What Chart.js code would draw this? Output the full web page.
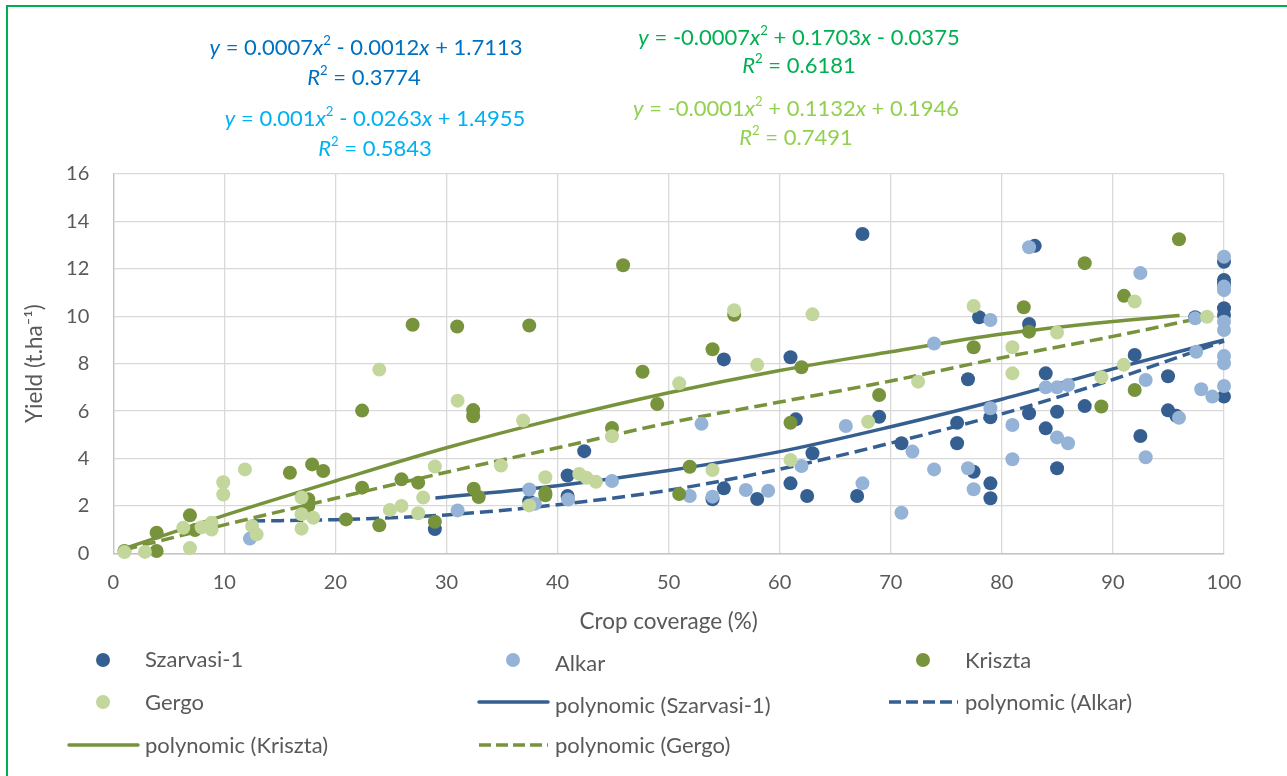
<!DOCTYPE html>
<html lang="en">
<head>
    <meta charset="UTF-8">
    <title>Yield vs crop coverage</title>
    <script src="https://cdn.jsdelivr.net/npm/chart.js"></script>
    <style>
        body { margin: 0; background: #fff; }
        #wrap { position: relative; width: 1287px; height: 776px; overflow: hidden; font-family: Lato, sans-serif; }
        #frame { position: absolute; left: 6px; top: 5px; right: -10px; bottom: -10px; border-top: 2.6px solid #00b050; border-left: 2.6px solid #00b050; pointer-events: none; }
        .eq { position: absolute; transform: translate(-50%, -50%); white-space: nowrap; font-size: 22px; }
        .eq sup { font-size: 0.6em; position: relative; top: -0.1em; vertical-align: top; }
    </style>
</head>
<body>
<div id="wrap">
    <canvas id="chart" width="1287" height="776"></canvas>
    <div id="frame"></div>
    <div class="eq" style="color:#0070c0; left:366px; top:46px"><i>y</i> = 0.0007<i>x</i><sup>2</sup> - 0.0012<i>x</i> + 1.7113</div>
    <div class="eq" style="color:#0070c0; left:364px; top:76px"><i>R</i><sup>2</sup> = 0.3774</div>
    <div class="eq" style="color:#00b0f0; left:375px; top:117px"><i>y</i> = 0.001<i>x</i><sup>2</sup> - 0.0263<i>x</i> + 1.4955</div>
    <div class="eq" style="color:#00b0f0; left:375px; top:147px"><i>R</i><sup>2</sup> = 0.5843</div>
    <div class="eq" style="color:#00b050; left:799px; top:36px"><i>y</i> = -0.0007<i>x</i><sup>2</sup> + 0.1703<i>x</i> - 0.0375</div>
    <div class="eq" style="color:#00b050; left:799px; top:64px"><i>R</i><sup>2</sup> = 0.6181</div>
    <div class="eq" style="color:#92d050; left:796px; top:107px"><i>y</i> = -0.0001<i>x</i><sup>2</sup> + 0.1132<i>x</i> + 0.1946</div>
    <div class="eq" style="color:#92d050; left:796px; top:136px"><i>R</i><sup>2</sup> = 0.7491</div>
</div>

<script>
// measured points [crop coverage %, yield t/ha]
const szarvasi = [[28.95,1.02],[37.45,2.2],[40.9,3.28],[40.9,2.42],[42.4,4.31],[53.95,2.28],[54.97,2.74],[54.97,8.18],
    [57.97,2.29],[60.97,8.27],[60.97,2.95],[61.45,5.65],[62.47,2.42],[62.95,4.22],[66.97,2.42],[67.45,13.47],[68.95,5.76],
    [70.96,4.64],[75.97,5.51],[75.97,4.64],[76.95,7.34],[77.46,3.44],[77.95,9.96],[78.97,5.74],[78.97,2.95],[78.97,2.32],
    [82.45,9.67],[82.45,5.91],[82.96,12.97],[83.95,7.59],[83.95,5.27],[84.97,5.97],[84.97,3.59],[87.46,6.21],[91.96,8.37],
    [92.47,4.95],[94.96,7.47],[94.96,6.03],[95.7,5.8],[97.4,9.96],[100,12.3],[100,11.53],[100,11.35],[100,10.34],[100,10.05],[100,6.61]];
const alkar = [[12.3,0.62],[31,1.81],[37.45,2.69],[37.95,2.09],[40.95,2.27],[44.9,3.05],[51.9,2.42],[52.96,5.46],[53.95,2.39],
    [56.95,2.67],[58.96,2.64],[61.96,3.68],[65.95,5.37],[67.45,2.95],[70.96,1.71],[71.95,4.29],[73.9,8.85],[73.9,3.54],
    [76.95,3.59],[77.46,2.7],[78.97,9.84],[78.97,6.12],[80.95,5.41],[80.95,3.97],[82.45,12.91],[83.95,7.0],[84.97,7.0],
    [85.96,7.1],[84.97,4.89],[85.96,4.64],[92.47,11.82],[92.95,7.31],[92.95,4.05],[95.95,5.72],[97.4,9.91],[97.5,8.5],
    [97.95,6.92],[98.95,6.61],[100,12.51],[100,11.25],[100,11.1],[100,9.77],[100,9.42],[100,8.32],[100,8.01],[100,7.06]];
const kriszta = [[1,0.1],[3.9,0.1],[3.9,0.87],[6.9,1.6],[7.35,0.98],[15.9,3.4],[17.55,2.28],[17.55,2.0],[17.9,3.75],[18.9,3.47],
    [20.95,1.43],[22.4,2.77],[22.4,6.02],[23.95,1.18],[25.95,3.12],[26.95,9.64],[27.45,2.98],[28.95,1.33],[30.96,9.57],
    [32.4,6.04],[32.4,5.78],[32.45,2.72],[32.9,2.37],[37.45,9.61],[38.9,2.55],[38.9,2.45],[44.9,5.29],[45.9,12.15],
    [47.65,7.66],[48.97,6.3],[50.95,2.5],[51.9,3.65],[53.95,8.61],[55.9,10.06],[60.97,5.51],[61.96,7.85],[68.95,6.68],
    [77.46,8.69],[81.97,10.38],[82.45,9.35],[87.46,12.24],[88.96,6.19],[91,10.86],[91.96,6.89],[95.95,13.25]];
const gergo = [[1,0.05],[2.85,0.06],[6.3,1.08],[6.9,0.22],[7.95,1.1],[8.85,1.29],[8.85,1.0],[9.9,3.0],[9.9,2.48],[11.85,3.54],
    [12.5,1.15],[12.9,0.8],[16.95,2.35],[16.95,1.65],[16.95,1.04],[18,1.5],[23.95,7.75],[24.9,1.83],[25.95,2.0],[27.45,1.69],
    [27.9,2.35],[28.95,3.66],[31,6.44],[34.9,3.7],[36.9,5.6],[37.45,2.02],[38.9,3.21],[41.95,3.35],[42.6,3.19],[43.45,3.02],
    [44.9,4.94],[50.95,7.17],[53.95,3.51],[55.9,10.25],[57.97,7.95],[60.97,3.94],[62.95,10.08],[67.96,5.55],[72.46,7.24],
    [77.46,10.43],[80.95,8.69],[80.95,7.59],[84.97,9.31],[88.96,7.43],[90.97,7.95],[91.96,10.62],[98.47,9.98]];

// trend lines
const trendSzarvasiX = [29, 40, 50, 60, 70, 80, 90, 100];
const trendSzarvasiY = [2.33, 2.85, 3.49, 4.29, 5.34, 6.5, 7.78, 9.0];
const trendAlkarX = [12.5, 20, 30, 40, 50, 60, 70, 80, 90, 100];
const trendAlkarY = [1.36, 1.42, 1.62, 2.05, 2.66, 3.55, 4.65, 5.88, 7.33, 8.95];
const trendKrisztaX = [1, 10, 20, 30, 40, 50, 60, 70, 80, 90, 96];
const trendKrisztaY = [0.2, 1.6, 3.05, 4.45, 5.68, 6.77, 7.71, 8.5, 9.25, 9.78, 10.03];
const trendGergoX = [1, 10, 20, 30, 40, 50, 60, 70, 80, 90, 98.5];
const trendGergoY = [0.15, 1.2, 2.32, 3.42, 4.45, 5.5, 6.38, 7.27, 8.25, 9.15, 9.98];

const xTicks = [0, 10, 20, 30, 40, 50, 60, 70, 80, 90, 100];
const yTicks = [0, 2, 4, 6, 8, 10, 12, 14, 16];

const DARK_BLUE = '#365f91', LIGHT_BLUE = '#95b3d7', DARK_GREEN = '#77933c', LIGHT_GREEN = '#c3d69b';
const TEXT = '#595959';
const DASH = [13, 6];

function pts(pairs) { return pairs.map(p => ({x: p[0], y: p[1]})); }
function line(xs, ys) { return xs.map((x, i) => ({x: x, y: ys[i]})); }

function scatterSet(label, pairs, color, order) {
    return { label: label, data: pts(pairs), backgroundColor: color, borderWidth: 0,
             pointRadius: 7, pointHoverRadius: 7, order: order, clip: false };
}
function trendSet(label, xs, ys, color, dash) {
    return { label: label, data: line(xs, ys), showLine: true, borderColor: color, borderWidth: 3.5,
             borderDash: dash, pointRadius: 0, cubicInterpolationMode: 'monotone', order: 10, clip: false };
}

// legend drawn in the Excel grid layout
const legendItems = [
    {text: 'Szarvasi-1', kind: 'dot', color: DARK_BLUE, x: 68, y: 660, ty: 660},
    {text: 'Alkar', kind: 'dot', color: LIGHT_BLUE, x: 478, y: 660, ty: 664},
    {text: 'Kriszta', kind: 'dot', color: DARK_GREEN, x: 888, y: 660, ty: 661},
    {text: 'Gergo', kind: 'dot', color: LIGHT_GREEN, x: 68, y: 702, ty: 703},
    {text: 'polynomic (Szarvasi-1)', kind: 'line', color: DARK_BLUE, dash: [], x: 478, y: 702, ty: 706},
    {text: 'polynomic (Alkar)', kind: 'line', color: DARK_BLUE, dash: [12, 5], x: 888, y: 702, ty: 703},
    {text: 'polynomic (Kriszta)', kind: 'line', color: DARK_GREEN, dash: [], x: 68, y: 745, ty: 746},
    {text: 'polynomic (Gergo)', kind: 'line', color: DARK_GREEN, dash: [12, 5], x: 478, y: 745, ty: 746}
];

const legendPlugin = {
    id: 'gridLegend',
    afterDraw(chart) {
        const ctx = chart.ctx;
        ctx.save();
        legendItems.forEach(it => {
            if (it.kind === 'dot') {
                ctx.fillStyle = it.color;
                ctx.beginPath();
                ctx.arc(it.x + 35, it.y, 7, 0, Math.PI * 2);
                ctx.fill();
            } else {
                ctx.strokeStyle = it.color;
                ctx.lineWidth = 3.5;
                ctx.lineCap = it.dash.length ? 'butt' : 'round';
                ctx.setLineDash(it.dash);
                ctx.beginPath();
                ctx.moveTo(it.x + 1, it.y);
                ctx.lineTo(it.x + 70, it.y);
                ctx.stroke();
                ctx.setLineDash([]);
            }
            ctx.fillStyle = TEXT;
            ctx.font = '22px Lato';
            ctx.textAlign = 'left';
            ctx.textBaseline = 'middle';
            ctx.fillText(it.text, it.x + 77, it.ty);
        });
        ctx.restore();
    }
};

new Chart(document.getElementById('chart'), {
    type: 'scatter',
    data: {
        datasets: [
            trendSet('polynomic (Szarvasi-1)', trendSzarvasiX, trendSzarvasiY, DARK_BLUE, []),
            trendSet('polynomic (Alkar)', trendAlkarX, trendAlkarY, DARK_BLUE, DASH),
            trendSet('polynomic (Kriszta)', trendKrisztaX, trendKrisztaY, DARK_GREEN, []),
            trendSet('polynomic (Gergo)', trendGergoX, trendGergoY, DARK_GREEN, DASH),
            scatterSet('Szarvasi-1', szarvasi, DARK_BLUE, 4),
            scatterSet('Alkar', alkar, LIGHT_BLUE, 3),
            scatterSet('Kriszta', kriszta, DARK_GREEN, 2),
            scatterSet('Gergo', gergo, LIGHT_GREEN, 1)
        ]
    },
    options: {
        responsive: false,
        animation: false,
        events: [],
        layout: { padding: { left: 10, right: 63, top: 174, bottom: 132.7 } },
        plugins: { legend: { display: false }, tooltip: { enabled: false } },
        scales: {
            x: {
                type: 'linear', min: 0, max: 100,
                afterBuildTicks: s => { s.ticks = xTicks.map(v => ({value: v})); },
                afterFit: s => { s.height = 90; },
                ticks: { color: TEXT, font: { family: 'Lato', size: 20 }, padding: 17, maxRotation: 0 },
                grid: { color: '#d9d9d9', lineWidth: 1.3, drawTicks: false },
                border: { color: '#c4c4c4', width: 1.5 },
                title: { display: true, text: 'Crop coverage (%)', color: TEXT,
                         font: { family: 'Lato', size: 22.5 }, padding: { top: 0, bottom: 8 } }
            },
            y: {
                type: 'linear', min: 0, max: 16,
                afterBuildTicks: s => { s.ticks = yTicks.map(v => ({value: v})); },
                afterFit: s => { s.width = 103.3; },
                ticks: { color: TEXT, font: { family: 'Lato', size: 20 }, padding: 24 },
                grid: { color: '#d9d9d9', lineWidth: 1.3, drawTicks: false },
                border: { color: '#c4c4c4', width: 1.3 },
                title: { display: true, text: 'Yield (t.ha⁻¹)', color: TEXT,
                         font: { family: 'Lato', size: 22.5 }, padding: { top: 11, bottom: 0 } }
            }
        }
    },
    plugins: [legendPlugin]
});
</script>
</body>
</html>
